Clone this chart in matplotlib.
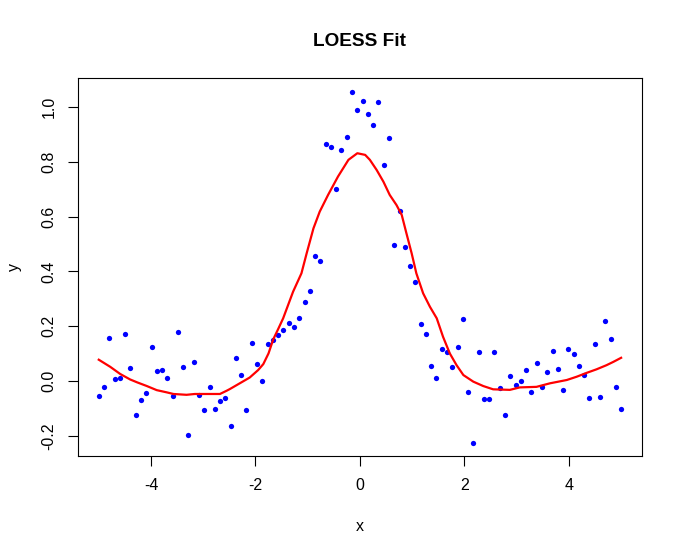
import numpy as np
import matplotlib.pyplot as plt

plt.rcParams["font.family"] = ["Liberation Sans", "DejaVu Sans"]
plt.rcParams["axes.unicode_minus"] = False

# observed points, x = seq(-5, 5, length = 100)
x = np.linspace(-5, 5, 100)
y = [-0.056, -0.023, 0.156, 0.006, 0.013, 0.170, 0.046, -0.125, -0.070, -0.045,
     0.123, 0.035, 0.039, 0.010, -0.056, 0.178, 0.050, -0.198, 0.068, -0.049,
     -0.107, -0.023, -0.103, -0.074, -0.063, -0.165, 0.086, 0.021, -0.107, 0.138,
     0.061, -0.001, 0.134, 0.149, 0.167, 0.185, 0.211, 0.196, 0.229, 0.287,
     0.327, 0.455, 0.437, 0.864, 0.853, 0.700, 0.842, 0.889, 1.054, 0.988,
     1.021, 0.973, 0.933, 1.017, 0.787, 0.886, 0.495, 0.619, 0.488, 0.419,
     0.360, 0.207, 0.170, 0.054, 0.010, 0.116, 0.105, 0.050, 0.123, 0.225,
     -0.038, -0.224, 0.105, -0.067, -0.067, 0.105, -0.027, -0.122, 0.017, -0.016,
     -0.001, 0.039, -0.038, 0.065, -0.023, 0.032, 0.108, 0.043, -0.034, 0.116,
     0.097, 0.054, 0.024, -0.063, 0.134, -0.059, 0.218, 0.152, -0.023, -0.103]

# loess curve
fit_x = [-5.0, -4.78, -4.59, -4.40, -4.26, -4.08, -3.89, -3.70, -3.57, -3.32,
         -3.16, -2.68, -2.55, -2.49, -2.30, -2.11, -1.95, -1.85, -1.75, -1.66,
         -1.56, -1.47, -1.28, -1.12, -1.02, -0.89, -0.77, -0.61, -0.42, -0.22,
         -0.05, 0.10, 0.19, 0.32, 0.45, 0.57, 0.70, 0.80, 0.89, 0.99,
         1.08, 1.21, 1.34, 1.47, 1.59, 1.72, 1.85, 1.98, 2.17, 2.36,
         2.55, 2.87, 3.06, 3.38, 3.64, 3.96, 4.15, 4.34, 4.53, 4.72,
         4.85, 5.0]
fit_y = [0.078, 0.052, 0.026, 0.006, -0.005, -0.018, -0.033, -0.041, -0.047, -0.050,
         -0.047, -0.047, -0.035, -0.029, -0.008, 0.013, 0.040, 0.062, 0.101, 0.152,
         0.192, 0.229, 0.326, 0.393, 0.466, 0.557, 0.618, 0.679, 0.746, 0.807,
         0.831, 0.825, 0.807, 0.770, 0.727, 0.679, 0.642, 0.606, 0.539, 0.466,
         0.393, 0.320, 0.271, 0.229, 0.162, 0.101, 0.058, 0.022, -0.002, -0.018,
         -0.030, -0.032, -0.023, -0.021, -0.008, 0.004, 0.016, 0.030, 0.043, 0.058,
         0.070, 0.085]

fig = plt.figure(figsize=(6.83, 5.54), dpi=100)
ax = fig.add_axes([0.114, 0.176, 0.826, 0.683])

ax.plot(x, y, "o", color="#0000FF", markersize=3.8, markeredgewidth=0)
ax.plot(fit_x, fit_y, color="#FF0000", linewidth=1.6)

ax.set_xlim(-5.4, 5.4)
ax.set_ylim(-0.275, 1.105)
ax.set_xticks([-4, -2, 0, 2, 4])
ax.set_yticks([-0.2, 0.0, 0.2, 0.4, 0.6, 0.8, 1.0])
ax.set_yticklabels(["-0.2", "0.0", "0.2", "0.4", "0.6", "0.8", "1.0"])

ax.tick_params(length=7, width=0.8, labelsize=11.5, pad=8.5)
for lbl in ax.get_yticklabels():
    lbl.set_rotation(90)
    lbl.set_va("center")
for sp in ax.spines.values():
    sp.set_linewidth(0.8)

ax.set_xlabel("x", fontsize=11.5, labelpad=18.5)
ax.set_ylabel("y", fontsize=11.5, labelpad=14)
ax.set_title("LOESS Fit", fontsize=13.7, fontweight="bold", pad=23)

fig.savefig("out.png", dpi=100)
